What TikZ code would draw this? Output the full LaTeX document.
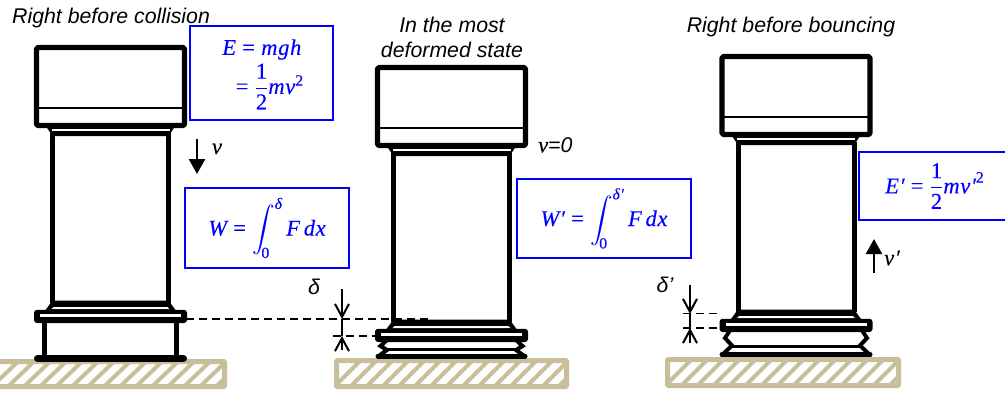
\documentclass[tikz,border=0pt]{standalone}
\usepackage{amsmath}
\usepackage{fontspec}
\usepackage{unicode-math}
\setmainfont{Liberation Sans}
\setmathfont{Latin Modern Math}
\newfontfamily\camfont{Liberation Serif}[FakeBold=0.2,LetterSpace=3]
\usetikzlibrary{arrows.meta}
\definecolor{groundc}{HTML}{C8BF9A}
\newcommand{\mfont}{\fontsize{22.5}{26}\selectfont}
\newcommand{\mi}[1]{\text{\camfont\itshape #1}}
\newcommand{\cn}[1]{\text{\camfont\upshape #1}}
\newcommand{\eqs}{\mathrel{\cn{=}}}
\tikzset{
  x=1pt,y=-1pt,
  label text/.style={font=\fontsize{21.3}{25}\selectfont\itshape,inner sep=0pt,align=center},
  formula box/.style={draw=blue,line width=1.5pt,fill=white,text=blue,inner sep=0pt,font=\mfont},
  math label/.style={font=\mfont,inner sep=0pt},
  thick part/.style={line width=5.3pt,line join=round},
  wave/.style={line width=4pt,line join=miter,line cap=round},
  mid bar/.style={line width=3pt},
  measure/.style={line width=1.8pt},
  dash line/.style={line width=1.4pt,dash pattern=on 8pt off 5pt},
  open tip/.style={-{Straight Barb[length=13pt,width=14pt,line width=2pt]}},
  solid tip/.style={-{Triangle[length=15pt,width=16pt]},line width=2.4pt},
  ground frame/.style={draw=groundc,line width=5pt,fill=white,rounded corners=1pt},
  hatch line/.style={groundc,line width=4pt},
  pics/upper/.style={code={
    % column sides
    \draw[line width=5pt] (-58,85) -- (-58,#1) (58,85) -- (58,#1);
    % collar
    \fill (-65,78) -- (65,78) -- (58,88.5) -- (-58,88.5) -- cycle;
    \fill[white] (-59,81.6) rectangle (59,83);
    % head
    \draw[thick part,fill=white,rounded corners=1.5pt] (-74,0) rectangle (74,78);
    \draw[line width=2pt] (-74,60.5) -- (74,60.5);
    % foot flange
    \fill (-58,#1-2.5) -- (58,#1-2.5) -- (65,#1+7) -- (-65,#1+7) -- cycle;
    \fill[white] (-57,#1+4) -- (57,#1+4) -- (59,#1+6) -- (-59,#1+6) -- cycle;
    \fill[rounded corners=3pt] (-76.5,#1+6.8) rectangle (76.5,#1+20);
    \fill[white] (-70.5,#1+11) rectangle (70.5,#1+13.6);
  }},
}
\begin{document}
\begin{tikzpicture}
\clip (0,0) rectangle (1005,392);
\fill[white] (0,0) rectangle (1005,392);

% grounds
\foreach \xa/\xb/\ya/\yb in {-6/224.5/361.5/386.5, 336.5/566.5/360.5/386.5, 667.5/898.5/359.5/385.5}{
  \begin{scope}
    \draw[ground frame] (\xa,\ya) rectangle (\xb,\yb);
    \clip (\xa,\ya) rectangle (\xb,\yb);
    \foreach \k in {0,16,...,272}{
      \draw[hatch line] (\xa-4+\k,\yb+2) -- (\xa-4+\k+30,\ya-2);
    }
  \end{scope}
}

% column 1
\pic at (110.5,47.5) {upper=255.5};
\draw[line width=5pt] (44.5,321) -- (44.5,358) (176.5,321) -- (176.5,358);
\draw[line width=7pt,line cap=round] (37.5,358.5) -- (183.5,358.5);

% column 2
\pic at (451.5,67.5) {upper=254.5};
\draw[wave] (387,340) -- (380.5,346) -- (387,350) -- (378,356.5);
\draw[wave] (516,340) -- (522.5,346) -- (516,350) -- (525,356.5);
\draw[mid bar] (386,349.5) -- (517,349.5);
\draw[line width=5pt,line cap=round] (378,356) -- (525,356);

% column 3
\pic at (796,56.5) {upper=255.5};
\draw[wave] (729,332) -- (725,338) -- (732,345.5) -- (722,355);
\draw[wave] (863,332) -- (867,338) -- (860,345.5) -- (870,355);
\draw[mid bar] (731,346) -- (861,346);
\draw[line width=5pt,line cap=round] (722,354.5) -- (870,354.5);

% titles
\node[label text,anchor=west] (t1) at (12,18) {Right before collision};
\node[label text] (t2) at (452,37.5) {In the most\\deformed state};
\node[label text] (t3) at (791,27) {Right before bouncing};

% formula boxes
\node[formula box,minimum width=143pt,minimum height=94pt] (eb) at (261.5,73)
  {\raisebox{-6pt}{\hspace{3pt}$\begin{array}{@{}l@{}}\mi{E}\eqs\mi{mgh}\\[1pt]\hspace{0.6em}\eqs\dfrac{\cn{1}}{\cn{2}}\mi{mv}^{\cn{2}}\end{array}$}};
\node[formula box,minimum width=164pt,minimum height=80pt] (wb) at (267,228)
  {$\mi{W}\eqs\displaystyle\int_{\cn{0}}^{\mi{δ}}\mi{F}\,\mi{dx}$};
\node[formula box,minimum width=174pt,minimum height=79pt] (wpb) at (604,218.5)
  {$\mi{W′}\eqs\displaystyle\int_{\cn{0}}^{\mi{δ′}}\mi{F}\,\mi{dx}$};
\node[formula box,minimum width=160pt,minimum height=68pt,anchor=west] (epb) at (858,186)
  {\hspace{-8pt}$\mi{E′}\eqs\dfrac{\cn{1}}{\cn{2}}\mi{mv′}^{\cn{2}}$};

% velocity arrows
\coordinate (v1a) at (197,139); \coordinate (v1b) at (197,174);
\draw[solid tip] (v1a) -- (v1b);
\node[math label] (v1) at (217,149) {$\mi{v}$};
\node[math label,anchor=west] (v0) at (538,145) {$\mi{v}$\fontsize{21.3}{25}\selectfont\itshape=0};
\coordinate (v2a) at (874,273); \coordinate (v2b) at (874,239);
\draw[solid tip] (v2a) -- (v2b);
\node[math label] (v2) at (892,258) {$\mi{v′}$};

% deformation, left
\coordinate (da) at (342,289); \coordinate (db) at (342,319);
\coordinate (dc) at (342,350); \coordinate (dd) at (342,336);
\coordinate (f1) at (186,319); \coordinate (f2) at (429,319);
\coordinate (f3) at (333,336); \coordinate (f4) at (375,336);
\draw[dash line] (f1) -- (f2);
\draw[dash line] (f3) -- (f4);
\draw[measure,open tip] (da) -- (db);
\draw[measure] (db) -- (dd);
\draw[measure,open tip] (dc) -- (dd);
\node[label text] (dl) at (314,287) {δ};

% deformation, right
\coordinate (ea) at (690,285); \coordinate (eb2) at (690,314);
\coordinate (ec) at (690,343); \coordinate (ed) at (690,328);
\coordinate (g1) at (683,313.5); \coordinate (g2) at (719,313.5);
\coordinate (g3) at (683,328); \coordinate (g4) at (719,328);
\draw[dash line] (g1) -- (g2);
\draw[dash line] (g3) -- (g4);
\draw[measure,open tip] (ea) -- (eb2);
\draw[measure] (eb2) -- (ed);
\draw[measure,open tip] (ec) -- (ed);
\node[label text] (el) at (665,285) {δ'};
\end{tikzpicture}
\end{document}
